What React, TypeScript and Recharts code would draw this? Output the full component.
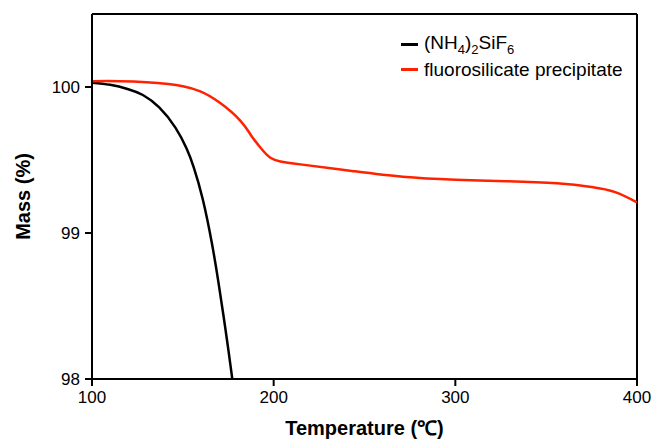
import { LineChart, Line, XAxis, YAxis, ReferenceLine } from "recharts"

const ammoniumT = [100, 110, 120, 128, 137, 146, 152, 156, 161, 166, 169.5, 172.3, 174.5, 176.8, 177.3]
const ammoniumMass = [100.03, 100.015, 99.985, 99.945, 99.86, 99.72, 99.58, 99.45, 99.23, 98.93, 98.67, 98.44, 98.25, 98.04, 97.99]

const precipT = [100, 115, 130, 142, 150, 159.6, 170.6, 181.6, 187.5, 193, 198.2, 203.7, 214.7, 243, 271, 300, 328, 356, 375, 388, 400]
const precipMass = [100.04, 100.04, 100.033, 100.02, 100.005, 99.97, 99.89, 99.77, 99.67, 99.58, 99.515, 99.49, 99.47, 99.425, 99.385, 99.365, 99.355, 99.34, 99.315, 99.28, 99.21]

const xTicks = [100, 200, 300, 400]
const yTicks = [98, 99, 100]

const ammonium = ammoniumT.map((t, i) => ({ t, mass: ammoniumMass[i] }))
const precip = precipT.map((t, i) => ({ t, mass: precipMass[i] }))

const font = "Arial, 'Liberation Sans', Helvetica, sans-serif"

function LegendBox() {
  const row = { display: "flex", alignItems: "center", height: 25 }
  const swatch = (c: string) => (
    <span style={{ display: "inline-block", width: 17, height: 3, background: c, marginRight: 6 }} />
  )
  return (
    <div
      style={{
        position: "absolute",
        left: 401,
        top: 32,
        fontFamily: font,
        fontSize: 19,
        color: "#000",
        lineHeight: 1,
      }}
    >
      <div style={row}>
        {swatch("#000")}
        <span>
          (NH<sub style={{ fontSize: 13 }}>4</sub>)<sub style={{ fontSize: 13 }}>2</sub>SiF
          <sub style={{ fontSize: 13 }}>6</sub>
        </span>
      </div>
      <div style={row}>
        {swatch("#ff2200")}
        <span>fluorosilicate precipitate</span>
      </div>
    </div>
  )
}

export default function App() {
  return (
    <div style={{ position: "absolute", left: 0, top: 0, width: 653, height: 441, background: "#fff" }}>
      <LineChart width={653} height={441} margin={{ top: 14, right: 16, left: 0, bottom: 0 }}>
        <XAxis
          type="number"
          dataKey="t"
          domain={[100, 400]}
          ticks={xTicks}
          height={62}
          axisLine={{ stroke: "#000", strokeWidth: 2 }}
          tickLine={{ stroke: "#000", strokeWidth: 2 }}
          tickSize={7}
          tickMargin={5}
          tick={{ fill: "#000", fontSize: 17, fontFamily: font }}
          allowDataOverflow
          label={{
            content: ({ viewBox }: any) => (
              <text
                x={viewBox.x + viewBox.width / 2}
                y={viewBox.y + 56}
                textAnchor="middle"
                fontFamily={font}
                fontWeight="bold"
                fontSize={20}
                fill="#000"
              >
                Temperature (℃)
              </text>
            ),
          }}
        />
        <YAxis
          type="number"
          domain={[98, 100.5]}
          ticks={yTicks}
          width={92}
          axisLine={{ stroke: "#000", strokeWidth: 2 }}
          tickLine={{ stroke: "#000", strokeWidth: 2 }}
          tickSize={7}
          tickMargin={5}
          tick={{ fill: "#000", fontSize: 17, fontFamily: font }}
          allowDataOverflow
          label={{
            content: ({ viewBox }: any) => {
              const cx = 23
              const cy = viewBox.y + viewBox.height / 2
              return (
                <text
                  x={cx}
                  y={cy}
                  transform={`rotate(-90 ${cx} ${cy})`}
                  textAnchor="middle"
                  dominantBaseline="central"
                  fontFamily={font}
                  fontWeight="bold"
                  fontSize={20}
                  fill="#000"
                >
                  Mass (%)
                </text>
              )
            },
          }}
        />
        <ReferenceLine y={100.5} stroke="#000" strokeWidth={2} />
        <ReferenceLine x={400} stroke="#000" strokeWidth={2} />
        <Line
          data={ammonium}
          dataKey="mass"
          type="natural"
          stroke="#000"
          strokeWidth={2.5}
          dot={false}
          isAnimationActive={false}
        />
        <Line
          data={precip}
          dataKey="mass"
          type="natural"
          stroke="#ff2200"
          strokeWidth={2.5}
          dot={false}
          isAnimationActive={false}
        />
      </LineChart>
      <LegendBox />
    </div>
  )
}
